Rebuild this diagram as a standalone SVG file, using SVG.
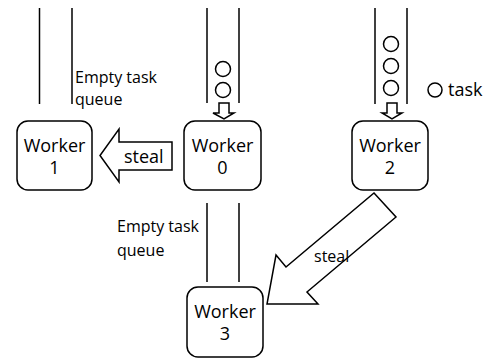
<svg xmlns="http://www.w3.org/2000/svg" width="487" height="359" viewBox="0 0 487 359">
<style>
.bg{fill:#fff}
.box{fill:#fff;stroke:#000;stroke-width:1.5}
.q{stroke:#000;stroke-width:1.5;fill:none}
.t{fill:none;stroke:#000;stroke-width:1.5}
.arr{fill:#fff;stroke:#000;stroke-width:1.5;stroke-linejoin:miter}
text{font-family:"Open Sans","Liberation Sans",sans-serif;fill:#000}
.w{font-size:18px;text-anchor:middle}
.l{font-size:16px}
.s{font-size:18px}
</style>
<rect class="bg" x="0" y="0" width="487" height="359"/>
<g id="queues">
<line class="q" x1="39.5" y1="8" x2="39.5" y2="104"/>
<line class="q" x1="72" y1="8" x2="72" y2="104"/>
<line class="q" x1="207" y1="8" x2="207" y2="103"/>
<line class="q" x1="239" y1="8" x2="239" y2="103"/>
<line class="q" x1="375" y1="8" x2="375" y2="104"/>
<line class="q" x1="407" y1="8" x2="407" y2="104"/>
<line class="q" x1="207" y1="203" x2="207" y2="282"/>
<line class="q" x1="239" y1="203" x2="239" y2="282"/>
<circle class="t" cx="223" cy="69" r="7.5"/>
<circle class="t" cx="223" cy="90" r="7.5"/>
<circle class="t" cx="391" cy="44" r="7.5"/>
<circle class="t" cx="391" cy="66" r="7.5"/>
<circle class="t" cx="391" cy="88" r="7.5"/>
</g>
<g id="labels">
<text class="l" x="75" y="83">Empty task</text>
<text class="l" x="75" y="105">queue</text>
<text class="l" x="117" y="232">Empty task</text>
<text class="l" x="117" y="256">queue</text>
<circle class="t" cx="435" cy="90" r="7"/>
<text class="s" x="448" y="96">task</text>
</g>
<g id="worker1">
<rect class="box" x="17" y="121" width="75" height="69" rx="11"/>
<text class="w" x="54.5" y="152">Worker</text>
<text class="w" x="54.5" y="174">1</text>
</g>
<g id="worker0">
<rect class="box" x="184" y="121" width="77" height="69" rx="11"/>
<text class="w" x="222.5" y="152">Worker</text>
<text class="w" x="222.5" y="174">0</text>
</g>
<g id="worker2">
<rect class="box" x="352" y="121" width="76" height="69" rx="11"/>
<text class="w" x="390" y="152">Worker</text>
<text class="w" x="390" y="174">2</text>
</g>
<g id="worker3">
<rect class="box" x="187" y="287" width="76" height="70" rx="11"/>
<text class="w" x="225" y="318">Worker</text>
<text class="w" x="225" y="340">3</text>
</g>
<g id="connectors">
<polygon class="arr" points="219,103 229,103 229,113 234,113 224,119 213,113 219,113"/>
<polygon class="arr" points="387,103 397,103 397,113 402,113 392,119 382,113 387,113"/>
<polygon class="arr" points="172,142 119,142 119,129 100,155.5 119,182 119,170 172,170"/>
<text class="s" x="124" y="163">steal</text>
<polygon class="arr" points="374,193 396,217 307,292 318,304 267,304 276,255 286,267"/>
<text class="l" x="314" y="262">steal</text>
</g>
</svg>
